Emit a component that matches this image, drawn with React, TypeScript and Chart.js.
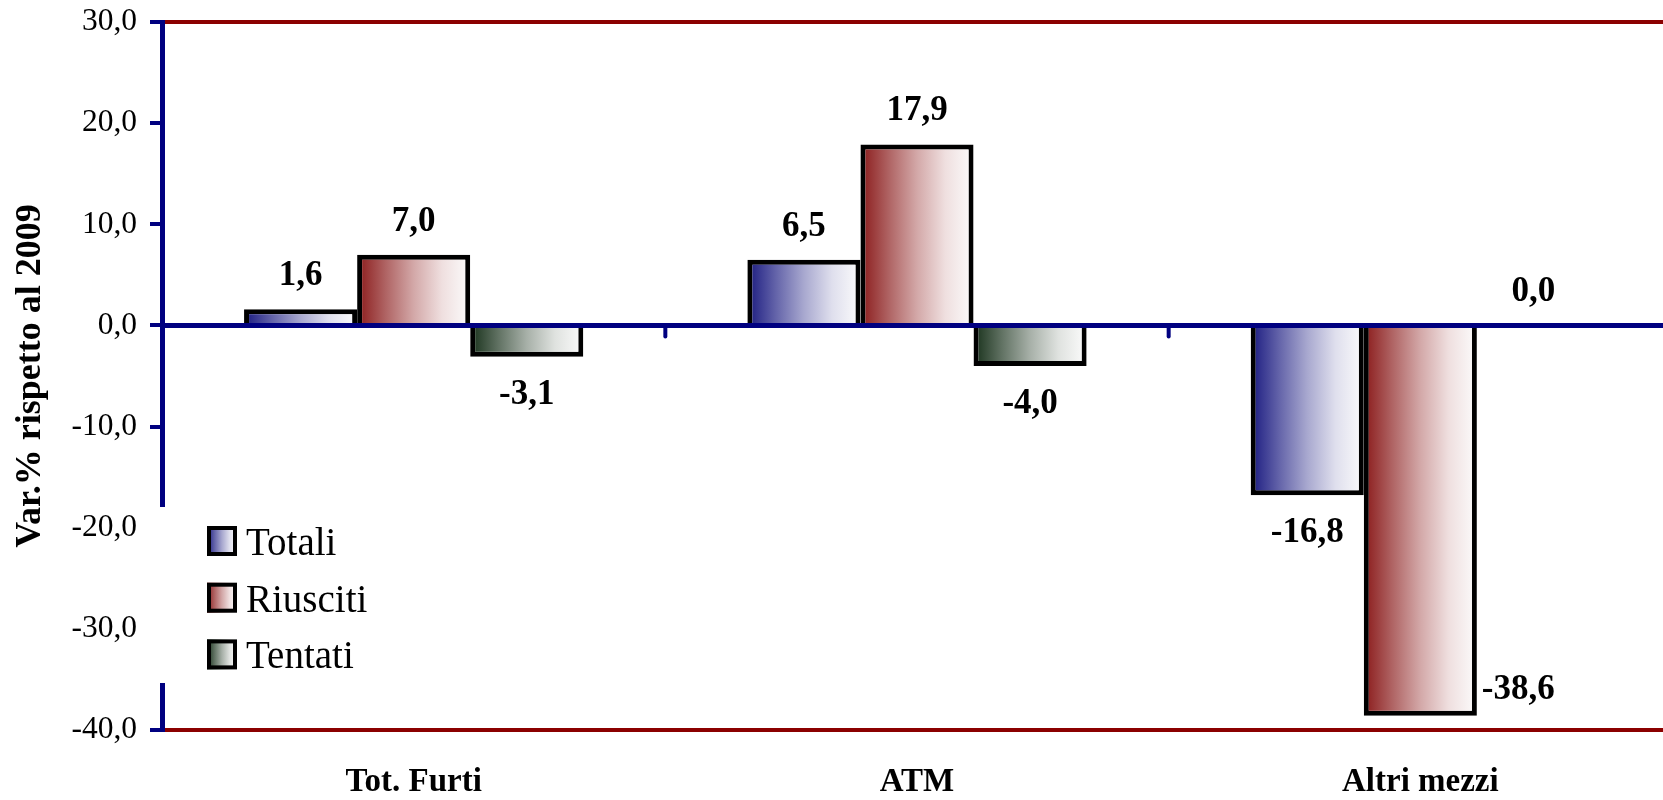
import React, { useEffect, useRef } from 'react';
import { Chart, registerables } from 'chart.js';

Chart.register(...registerables);

const categories = ['Tot. Furti', 'ATM', 'Altri mezzi'];
const seriesNames = ['Totali', 'Riusciti', 'Tentati'];
const totali = [1.6, 6.5, -16.8];
const riusciti = [7.0, 17.9, -38.6];
const tentati = [-3.1, -4.0, 0.0];
const yTickValues = [30, 20, 10, 0, -10, -20, -30, -40];
const yAxisTitle = 'Var.% rispetto al 2009';
const darkColors = ['#1a1a80', '#8a1a1a', '#17301a'];

const FONT = "'Liberation Serif', 'Times New Roman', serif";
const NAVY = '#000080';
const DARKRED = '#8b0000';

const fmt = (v: number) => Number(v).toFixed(1).replace('.', ',');

function hexToRgb(h: string) {
  const n = parseInt(h.slice(1), 16);
  return [(n >> 16) & 255, (n >> 8) & 255, n & 255];
}
function mix(h: string, t: number) {
  const [r, g, b] = hexToRgb(h);
  const m = (c: number) => Math.round(c + (255 - c) * t);
  return `rgb(${m(r)},${m(g)},${m(b)})`;
}
function makeGrad(ctx: CanvasRenderingContext2D, x0: number, x1: number, color: string) {
  const g = ctx.createLinearGradient(x0, 0, x1, 0);
  g.addColorStop(0, color);
  g.addColorStop(0.25, mix(color, 0.32));
  g.addColorStop(0.5, mix(color, 0.62));
  g.addColorStop(0.75, mix(color, 0.86));
  g.addColorStop(1, '#fcfcfc');
  return g;
}

const gradientPlugin = {
  id: 'barGradient',
  beforeDatasetsDraw(chart: any) {
    const ctx = chart.ctx;
    chart.data.datasets.forEach((ds: any, di: number) => {
      const meta = chart.getDatasetMeta(di);
      meta.data.forEach((el: any) => {
        const half = el.width / 2;
        const g = makeGrad(ctx, el.x - half, el.x + half, darkColors[di]);
        el.options = Object.assign({}, el.options, { backgroundColor: g });
      });
    });
  },
};

const overlayPlugin = {
  id: 'overlay',
  afterDatasetsDraw(chart: any) {
    const { ctx, chartArea } = chart;
    const xs = chart.scales.x;
    const ys = chart.scales.y;
    const y0 = ys.getPixelForValue(0);
    ctx.save();
    ctx.strokeStyle = NAVY;
    ctx.lineWidth = 5;
    ctx.beginPath();
    ctx.moveTo(chartArea.left, y0);
    ctx.lineTo(chart.width, y0);
    ctx.stroke();
    ctx.lineWidth = 4;
    ctx.lineCap = 'round';
    for (let i = 0; i < categories.length - 1; i++) {
      const bx = (xs.getPixelForTick(i) + xs.getPixelForTick(i + 1)) / 2;
      ctx.beginPath();
      ctx.moveTo(bx, y0);
      ctx.lineTo(bx, y0 + 11);
      ctx.stroke();
    }
    ctx.fillStyle = '#000';
    ctx.font = `bold 35px ${FONT}`;
    ctx.textBaseline = 'alphabetic';
    chart.data.datasets.forEach((ds: any, di: number) => {
      const meta = chart.getDatasetMeta(di);
      meta.data.forEach((el: any, i: number) => {
        const v = ds.data[i];
        const txt = fmt(v);
        if (v >= 0) {
          ctx.textAlign = 'center';
          ctx.fillText(txt, el.x, el.y - 24);
        } else {
          const below = el.y + 47;
          if (below > chartArea.bottom) {
            ctx.textAlign = 'left';
            ctx.fillText(txt, el.x + el.width / 2 + 5, el.y - 17);
          } else {
            ctx.textAlign = 'center';
            ctx.fillText(txt, el.x, below);
          }
        }
      });
    });
    ctx.restore();
  },
  afterDraw(chart: any) {
    const { ctx, chartArea } = chart;
    ctx.save();
    const lx = chartArea.left - 17;
    const ly = 507;
    ctx.fillStyle = '#ffffff';
    ctx.fillRect(lx, ly, 235, 176);
    chart.data.datasets.forEach((ds: any, di: number) => {
      const bx = lx + 62;
      const by = ly + 19 + di * 56.7;
      ctx.fillStyle = makeGrad(ctx, bx, bx + 30, darkColors[di]);
      ctx.fillRect(bx, by, 30, 30);
      ctx.strokeStyle = '#000';
      ctx.lineWidth = 4;
      ctx.strokeRect(bx + 2, by + 2, 26, 26);
      ctx.fillStyle = '#000';
      ctx.font = `39px ${FONT}`;
      ctx.textAlign = 'left';
      ctx.textBaseline = 'alphabetic';
      ctx.fillText(ds.label, bx + 39, by + 29);
    });
    ctx.restore();
  },
};

export default function App() {
  const ref = useRef<HTMLCanvasElement | null>(null);
  useEffect(() => {
    if (!ref.current) return;
    const seriesData = [totali, riusciti, tentati];
    const chart = new Chart(ref.current, {
      type: 'bar',
      data: {
        labels: categories,
        datasets: seriesNames.map((name, i) => ({
          label: name,
          data: seriesData[i],
          backgroundColor: darkColors[i],
          borderColor: '#000',
          borderWidth: 5,
          barPercentage: 1,
          categoryPercentage: 0.674,
        })),
      },
      options: {
        responsive: false,
        animation: false,
        devicePixelRatio: 1,
        layout: { padding: { top: 22, left: 0, right: 0, bottom: 0 } },
        plugins: {
          legend: { display: false },
          tooltip: { enabled: false },
        },
        scales: {
          x: {
            afterFit: (s: any) => { s.height = 70; s.paddingLeft = 0; s.paddingRight = 0; },
            grid: { display: false, drawTicks: false },
            border: { display: false },
            ticks: {
              font: { family: FONT, size: 33, weight: 'bold' },
              color: '#000',
              padding: 33,
              maxRotation: 0,
              autoSkip: false,
            },
          },
          y: {
            min: -40,
            max: 30,
            afterFit: (s: any) => { s.width = 162; s.paddingTop = 0; s.paddingBottom = 0; },
            afterBuildTicks: (s: any) => { s.ticks = yTickValues.map((v) => ({ value: v })); },
            ticks: {
              callback: (v: any) => fmt(Number(v)),
              font: { family: FONT, size: 31.5 },
              color: '#000',
              padding: 13,
            },
            grid: {
              color: (c: any) => (c.tick && (c.tick.value === 30 || c.tick.value === -40) ? DARKRED : 'rgba(0,0,0,0)'),
              lineWidth: 4,
              tickColor: NAVY,
              tickLength: 12,
              tickWidth: 4,
              drawTicks: true,
            },
            border: { color: NAVY, width: 5 },
            title: {
              display: true,
              text: yAxisTitle,
              font: { family: FONT, size: 36, weight: 'bold' },
              color: '#000',
              padding: { top: 9, bottom: 0 },
            },
          },
        },
      },
      plugins: [gradientPlugin, overlayPlugin],
    } as any);
    return () => chart.destroy();
  }, []);
  return (
    <div style={{ position: 'fixed', left: 0, top: 0, width: 1663, height: 800, overflow: 'hidden', background: '#fff' }}>
      <canvas ref={ref} width={1672} height={800} style={{ display: 'block', width: 1672, height: 800 }} />
    </div>
  );
}
